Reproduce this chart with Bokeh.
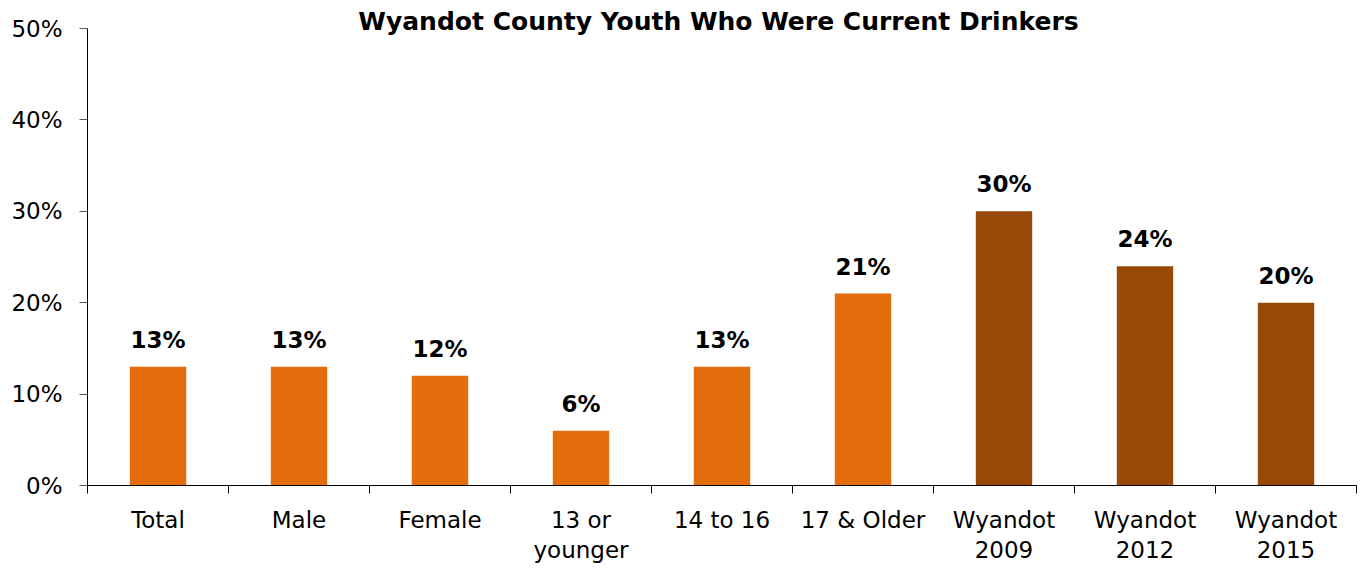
from bokeh.plotting import figure
from bokeh.models import (ColumnDataSource, FixedTicker, LinearAxis, NumeralTickFormatter,
                          Label, Range1d)
from bokeh.embed import file_html
from bokeh.resources import INLINE
from bokeh.core.properties import value

# ---- data ----
categories = ["Total", "Male", "Female", "13 or\nyounger", "14 to 16", "17 & Older",
              "Wyandot\n2009", "Wyandot\n2012", "Wyandot\n2015"]
values = [0.13, 0.13, 0.12, 0.06, 0.13, 0.21, 0.30, 0.24, 0.20]
groups = ["2015"] * 6 + ["trend"] * 3
title_text = "Wyandot County Youth Who Were Current Drinkers"
y_ticks = [0, 0.1, 0.2, 0.3, 0.4, 0.5]

ORANGE = "#E46C0A"
BROWN = "#984807"
FONT = "DejaVu Sans"

xs = [i + 0.5 for i in range(len(categories))]
colors = [ORANGE if g == "2015" else BROWN for g in groups]
labels = [f"{round(v * 100)}%" for v in values]
src = ColumnDataSource(dict(x=xs, top=values, color=colors, label=labels))

# frame spans a bit above 50% so the title can sit inside it
p = figure(width=1361, height=568, output_backend="svg", toolbar_location=None,
           x_range=Range1d(0, len(categories)), y_range=Range1d(0, 0.523),
           x_axis_type=None, y_axis_type=None,
           min_border_left=87, min_border_right=5, min_border_top=7, min_border_bottom=83)
p.outline_line_color = None
p.background_fill_color = "white"
p.border_fill_color = "white"

p.vbar(x="x", top="top", width=0.4, bottom=0, color="color", line_color=None, source=src)

p.text(x="x", y="top", text="label", source=src, text_align="center",
       text_baseline="alphabetic", y_offset=-27, text_font=value(FONT),
       text_font_style="bold", text_font_size="23px", text_color="black")

# y axis
yax = LinearAxis(ticker=FixedTicker(ticks=y_ticks, minor_ticks=[]),
                 formatter=NumeralTickFormatter(format="0%"), bounds=(0, 0.5))
yax.major_tick_in = 0
yax.major_tick_out = 8
yax.minor_tick_in = 0
yax.minor_tick_out = 0
yax.major_label_standoff = 17
yax.major_label_text_font = FONT
yax.major_label_text_font_size = "23px"
yax.major_label_text_color = "black"
yax.axis_line_color = "black"
yax.major_tick_line_color = "#555555"
p.add_layout(yax, "left")

# x axis: labels at centres, ticks at category boundaries
xax = LinearAxis(ticker=FixedTicker(ticks=xs, minor_ticks=list(range(len(categories) + 1))))
xax.major_label_overrides = {x: c for x, c in zip(xs, categories)}
xax.major_tick_in = 0
xax.major_tick_out = 0
xax.minor_tick_in = 0
xax.minor_tick_out = 8
xax.minor_tick_line_color = "black"
xax.major_label_standoff = 13
xax.major_label_text_font = FONT
xax.major_label_text_font_size = "23px"
xax.major_label_text_color = "black"
xax.major_label_text_line_height = 1.17
xax.axis_line_color = "black"
p.add_layout(xax, "below")

p.xgrid.visible = False
p.ygrid.visible = False

p.add_layout(Label(x=4.475, y=0.5, y_offset=7, text=title_text, text_align="center",
                   text_baseline="alphabetic", text_font=FONT, text_font_style="bold",
                   text_font_size="25px", text_color="black"))

open("out.html", "w").write(file_html(p, INLINE))
